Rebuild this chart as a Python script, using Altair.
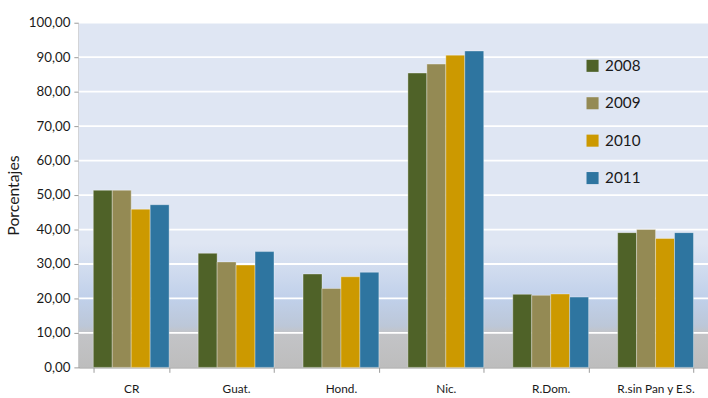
import altair as alt
import pandas as pd

categories = ["CR", "Guat.", "Hond.", "Nic.", "R.Dom.", "R.sin Pan y E.S."]
years = ["2008", "2009", "2010", "2011"]
v2008 = [51.4, 33.1, 27.1, 85.4, 21.2, 39.1]
v2009 = [51.4, 30.6, 22.9, 88.0, 20.9, 40.0]
v2010 = [45.9, 29.7, 26.3, 90.6, 21.3, 37.4]
v2011 = [47.2, 33.6, 27.6, 91.8, 20.4, 39.1]
colors = ["#4F6228", "#948A54", "#CC9900", "#2E75A0"]
grid_values = [10, 20, 30, 40, 50, 60, 70, 80, 90, 100]
tick_values = [0, 10, 20, 30, 40, 50, 60, 70, 80, 90, 100]

series = {"2008": v2008, "2009": v2009, "2010": v2010, "2011": v2011}
rows = []
for y in years:
    for c, v in zip(categories, series[y]):
        rows.append({"cat": c, "year": y, "value": v})
df = pd.DataFrame(rows)

W, H = 639, 350
FONT = "Lato"

gradient = alt.LinearGradient(
    gradient="linear", x1=0, y1=0, x2=0, y2=1,
    stops=[
        alt.GradientStop(offset=0, color="#dfe6f3"),
        alt.GradientStop(offset=0.64, color="#dfe6f3"),
        alt.GradientStop(offset=0.80, color="#c0d0ea"),
        alt.GradientStop(offset=0.88, color="#bcc7d8"),
        alt.GradientStop(offset=0.9, color="#c3c4c7"),
        alt.GradientStop(offset=1, color="#bdbdbd"),
    ],
)

y_axis = alt.Axis(title="Porcentajes", values=tick_values, grid=False,
                  labelOverlap=False, tickCount=11,
                  labelExpr="replace(format(datum.value, '.2f'), '.', ',')",
                  labelFontSize=13.5, tickSize=5, labelPadding=4,
                  titleFontSize=16, titleFontWeight="normal", titlePadding=7,
                  domainColor="#9a9a9a", tickColor="#9a9a9a", domainWidth=1.5)
y_scale = alt.Scale(domain=[0, 100], nice=False)

bg = alt.Chart(pd.DataFrame({"k": [0]})).mark_rect(fill=gradient).encode(
    x=alt.value(0), x2=alt.value(W), y=alt.value(0), y2=alt.value(H)
)

grid = alt.Chart(pd.DataFrame({"value": grid_values})).mark_rule(
    color="white", strokeWidth=1.8
).encode(
    y=alt.Y("value:Q", scale=y_scale, axis=y_axis), x=alt.value(0), x2=alt.value(W)
)

bars = alt.Chart(df).mark_bar(stroke="white", strokeOpacity=0.35, strokeWidth=1).encode(
    x=alt.X("cat:N", sort=categories,
            scale=alt.Scale(paddingInner=0.277, paddingOuter=0.1385),
            axis=alt.Axis(title=None, labelAngle=0, tickBand="extent", tickSize=5,
                          labelPadding=12, labelFontSize=12, grid=False,
                          domainColor="#9a9a9a", tickColor="#9a9a9a", domainWidth=1.5)),
    xOffset=alt.XOffset("year:N", sort=years, scale=alt.Scale(paddingInner=0, paddingOuter=0)),
    y=alt.Y("value:Q", scale=y_scale, axis=y_axis),
    color=alt.Color("year:N", sort=years, scale=alt.Scale(domain=years, range=colors),
                    legend=alt.Legend(title=None, orient="none", legendX=514, legendY=36,
                                      symbolType="square", symbolSize=150, symbolStrokeWidth=0,
                                      labelFontSize=15.5, rowPadding=21, labelOffset=5)),
)

chart = alt.layer(bg, grid, bars).properties(
    width=W, height=H,
    autosize=alt.AutoSizeParams(type="none"),
    padding={"left": 80, "top": 20, "right": 0, "bottom": 28},
).configure_view(
    stroke=None,
).configure_axis(
    labelFont=FONT, titleFont=FONT, labelColor="#1a1a1a", titleColor="#1a1a1a",
).configure_legend(
    labelFont=FONT, labelColor="#1a1a1a",
)

chart.save("out.html", embed_options={"renderer": "svg", "actions": False})
